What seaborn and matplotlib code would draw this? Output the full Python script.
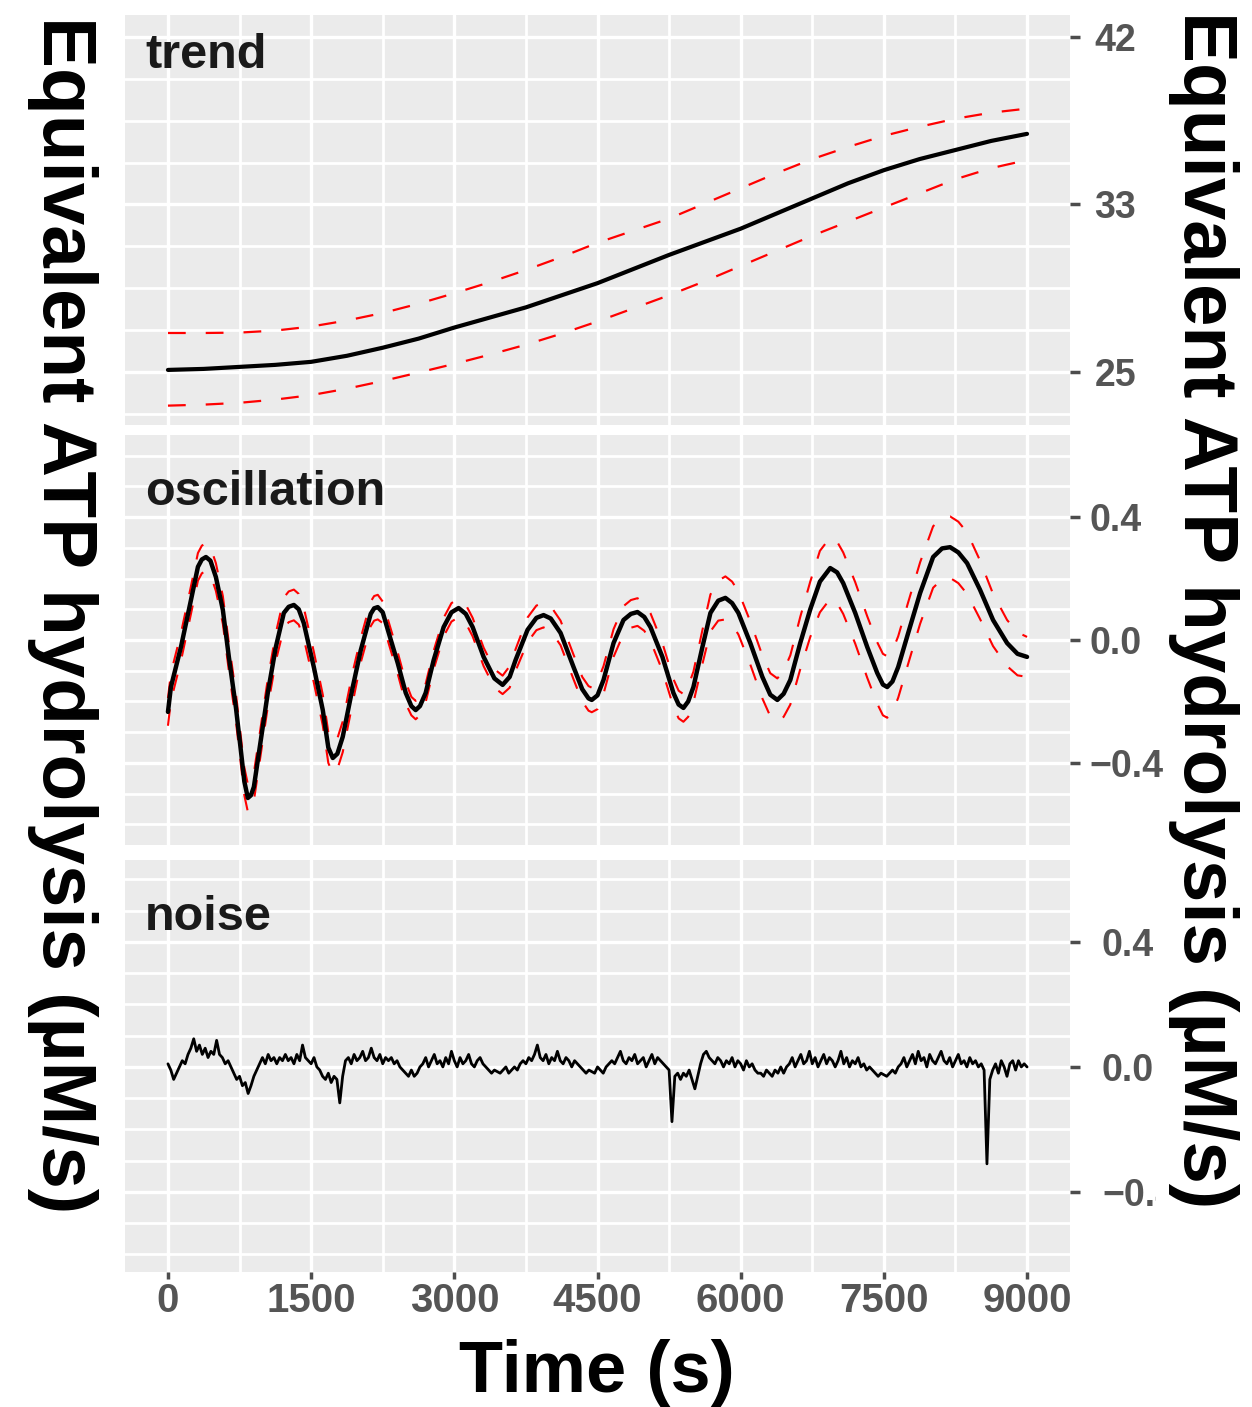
import numpy as np
import pandas as pd
import matplotlib
matplotlib.use("Agg")
import matplotlib.pyplot as plt
from matplotlib.ticker import FixedLocator, MultipleLocator
from matplotlib.transforms import Bbox, TransformedBbox
import seaborn as sns

# ---------------- data ----------------
x_ticks = [0, 1500, 3000, 4500, 6000, 7500, 9000]

# trend component with its upper / lower bounds
trend_time = [0, 375, 750, 1125, 1500, 1875, 2250, 2625, 3000, 3375, 3750, 4125, 4500,
              4875, 5250, 5625, 6000, 6375, 6750, 7125, 7500, 7875, 8250, 8625, 9000]
trend_fit = [25.1, 25.15, 25.25, 25.35, 25.5, 25.8, 26.2, 26.65, 27.2, 27.7, 28.2, 28.8, 29.4,
             30.1, 30.8, 31.45, 32.1, 32.85, 33.6, 34.35, 35.0, 35.55, 36.0, 36.45, 36.8]
trend_upper = [26.93, 26.93, 26.95, 27.05, 27.25, 27.55, 27.92, 28.38, 28.9, 29.45, 30.05, 30.7, 31.4,
               32.0, 32.6, 33.35, 34.1, 34.85, 35.55, 36.15, 36.7, 37.15, 37.55, 37.85, 38.05]
trend_lower = [23.33, 23.38, 23.47, 23.63, 23.85, 24.17, 24.55, 24.97, 25.4, 25.86, 26.35, 26.9, 27.5,
               28.15, 28.8, 29.5, 30.25, 31.0, 31.75, 32.45, 33.15, 33.85, 34.55, 35.1, 35.5]
trend_ticks = [25, 33.3, 41.6]
trend_tick_labels = ["25", "33", "42"]

# oscillation component and the half-width of its band
osc_time = [0, 31, 136, 241, 314, 355, 398, 445, 502, 575,
            638, 712, 764, 800, 837, 870, 900, 973, 1046, 1130,
            1214, 1265, 1319, 1370, 1423, 1528, 1622, 1680, 1727, 1775,
            1831, 1936, 2020, 2124, 2160, 2198, 2250, 2313, 2407, 2491,
            2550, 2595, 2640, 2700, 2784, 2888, 2970, 3045, 3120, 3192,
            3307, 3420, 3506, 3580, 3642, 3767, 3860, 3935, 4010, 4113,
            4249, 4340, 4406, 4440, 4500, 4563, 4668, 4772, 4850, 4919,
            4990, 5055, 5180, 5295, 5350, 5400, 5450, 5505, 5599, 5683,
            5765, 5840, 5910, 5976, 6101, 6227, 6310, 6384, 6450, 6520,
            6624, 6729, 6830, 6938, 7010, 7074, 7200, 7326, 7430, 7490,
            7535, 7590, 7650, 7755, 7880, 8016, 8110, 8194, 8280, 8372,
            8508, 8644, 8791, 8900, 9000]
osc_fit = [-0.234, -0.153, -0.023, 0.13, 0.238, 0.262, 0.27, 0.258, 0.205, 0.098,
           -0.055, -0.22, -0.36, -0.46, -0.514, -0.505, -0.478, -0.325, -0.172, -0.023,
           0.088, 0.108, 0.114, 0.1, 0.055, -0.088, -0.228, -0.35, -0.384, -0.37,
           -0.315, -0.153, -0.033, 0.085, 0.103, 0.107, 0.09, 0.023, -0.075, -0.172,
           -0.215, -0.228, -0.215, -0.172, -0.065, 0.042, 0.09, 0.104, 0.085, 0.042,
           -0.055, -0.125, -0.146, -0.12, -0.065, 0.033, 0.072, 0.081, 0.07, 0.023,
           -0.088, -0.16, -0.19, -0.195, -0.18, -0.13, -0.01, 0.065, 0.085, 0.091,
           0.075, 0.042, -0.055, -0.172, -0.21, -0.221, -0.2, -0.153, -0.023, 0.088,
           0.128, 0.137, 0.12, 0.088, -0.01, -0.12, -0.178, -0.195, -0.175, -0.13,
           -0.01, 0.1, 0.19, 0.234, 0.22, 0.185, 0.088, -0.023, -0.107, -0.145,
           -0.153, -0.135, -0.088, 0.023, 0.153, 0.27, 0.298, 0.302, 0.285, 0.25,
           0.163, 0.065, -0.01, -0.045, -0.055]
osc_halfwidth = [0.045] * 20 + [0.05] * 12 + [0.04, 0.04, 0.04, 0.04, 0.035, 0.035, 0.035, 0.035] + \
    [0.03] * 13 + [0.035, 0.035, 0.04, 0.04, 0.04, 0.04, 0.04] + [0.04] * 4 + [0.045] * 12 + \
    [0.05, 0.05, 0.055, 0.06, 0.065, 0.07, 0.07, 0.07, 0.07, 0.07, 0.07, 0.07, 0.075, 0.08] + \
    [0.085, 0.09] + [0.1] * 18 + [0.095, 0.085, 0.075, 0.07, 0.065]
resid_ticks = [-0.4, 0.0, 0.4]
osc_tick_labels = ["\u22120.4", "0.0", "0.4"]
noise_tick_labels = ["\u22120.4", "0.0", "0.4"]

# noise component, one reading every 30 s from 0 to 9000 s
noise_value = [
    0.01, -0.01, -0.04,
    -0.02, 0.0, 0.02, 0.01, 0.04, 0.06, 0.09,
    0.05, 0.07, 0.04, 0.06, 0.03, 0.05, 0.04, 0.085,
    0.04, 0.03, 0.01, 0.02, 0.0,
    -0.02, -0.04, -0.03, -0.06, -0.05, -0.085,
    -0.06, -0.03, -0.01, 0.01,
    0.03, 0.01, 0.04, 0.02, 0.03, 0.01, 0.03, 0.02, 0.04, 0.02, 0.03, 0.01, 0.04, 0.02, 0.07,
    0.03, 0.02, 0.01, 0.03, 0.0, -0.01,
    -0.03, -0.04, -0.02, -0.05, -0.03, -0.04, -0.115,
    -0.03, 0.02,
    0.03, 0.01, 0.04, 0.02, 0.03, 0.05, 0.02, 0.03, 0.06, 0.03, 0.02, 0.04, 0.01, 0.03, 0.02,
    0.03, 0.01, 0.02, 0.0, -0.01,
    -0.02, -0.03, -0.01, -0.03, -0.02, 0.0,
    0.01, 0.03, 0.0, 0.02, 0.04, 0.01, 0.02, 0.0, 0.03, 0.01, 0.05, 0.02, 0.0, 0.03, 0.01,
    0.02, 0.04, 0.01, 0.0, 0.02, 0.03, 0.01, 0.0,
    -0.01, -0.02, -0.01, -0.015, -0.02, -0.01, 0.0, -0.02, -0.01, 0.0, -0.01, 0.01,
    0.02, 0.01, 0.03, 0.02, 0.04, 0.07, 0.03, 0.02, 0.04, 0.01, 0.03, 0.02, 0.05, 0.02, 0.01,
    0.03, 0.02, 0.0, 0.02, 0.01, 0.0,
    -0.01, -0.02, -0.01, -0.015, -0.02, 0.0, -0.01, -0.02, 0.0, 0.01,
    0.02, 0.01, 0.03, 0.05, 0.02, 0.01, 0.03, 0.02, 0.04, 0.01, 0.02, 0.03, 0.0, 0.02, 0.04,
    0.01, 0.03, 0.02, 0.01, 0.0, -0.01,
    -0.175,
    -0.03, -0.02, -0.04, -0.02, -0.03, -0.01, -0.04, -0.07, -0.03,
    0.01, 0.04, 0.05, 0.03, 0.02,
    0.01, 0.03, 0.02, 0.0, 0.02, 0.01, 0.03, 0.0, 0.02, 0.01, -0.01, 0.02, 0.0, 0.01, -0.01, -0.02,
    -0.02, -0.03, -0.01, -0.02, -0.03, -0.01, -0.02, 0.0, -0.02, 0.0,
    0.01, 0.03, 0.0, 0.02, 0.04, 0.01, 0.02, 0.05, 0.01, 0.03, 0.0, 0.02, 0.04, 0.01, 0.03,
    0.02, 0.0, 0.02, 0.05, 0.01, 0.03, 0.0, 0.02, 0.01, 0.03, 0.0, 0.01, -0.01, 0.0, -0.01,
    -0.02, -0.03, -0.02, -0.025, -0.03, -0.02, -0.01, -0.02, 0.0,
    0.01, 0.03, 0.0, 0.02, 0.04, 0.01, 0.05, 0.02, 0.03, 0.0, 0.04, 0.02, 0.01, 0.03, 0.05,
    0.02, 0.01, 0.03, 0.0, 0.02, 0.04, 0.01, 0.02, 0.0, 0.03, 0.01, 0.02, 0.0, 0.01, -0.01,
    -0.31,
    -0.04, -0.01, 0.01, -0.02, 0.02, 0.0, -0.03, 0.01, 0.02, -0.01, 0.02, 0.0, 0.01, 0.0,
]

# ---------------- tables ----------------
trend_df = pd.DataFrame({"time": trend_time, "fit": trend_fit,
                         "upper": trend_upper, "lower": trend_lower})
osc_df = pd.DataFrame({"time": osc_time, "fit": osc_fit, "hw": osc_halfwidth})
osc_df["upper"] = osc_df["fit"] + osc_df["hw"]
osc_df["lower"] = osc_df["fit"] - osc_df["hw"]
noise_df = pd.DataFrame({"time": np.linspace(0, 9000, len(noise_value)),
                         "value": noise_value})

# ---------------- style ----------------
sns.set_theme(style="darkgrid", rc={
    "axes.facecolor": "#EBEBEB",
    "grid.color": "white",
    "figure.facecolor": "white",
    "lines.solid_joinstyle": "round",
    "lines.solid_capstyle": "round",
})
plt.rcParams["font.family"] = ["Liberation Sans", "DejaVu Sans"]

FIG_W, FIG_H = 1252, 1407
fig = plt.figure(figsize=(FIG_W / 100, FIG_H / 100), dpi=100)


def panel(top, bottom):
    return fig.add_axes([125 / FIG_W, 1 - bottom / FIG_H,
                         945 / FIG_W, (bottom - top) / FIG_H])


ax_trend = panel(15, 425)
ax_osc = panel(435, 845)
ax_noise = panel(860, 1272)

TICK_GREY = "#4D4D4D"
LABEL_GREY = "#555555"
BAND_RED = "#FF0000"
band_dash = (0, (8, 9))

# trend panel
sns.lineplot(data=trend_df, x="time", y="upper", ax=ax_trend, color=BAND_RED,
             linewidth=1.6, linestyle=band_dash)
sns.lineplot(data=trend_df, x="time", y="lower", ax=ax_trend, color=BAND_RED,
             linewidth=1.6, linestyle=band_dash)
sns.lineplot(data=trend_df, x="time", y="fit", ax=ax_trend, color="black",
             linewidth=3.0)

# oscillation panel
sns.lineplot(data=osc_df, x="time", y="upper", ax=ax_osc, color=BAND_RED,
             linewidth=1.5, linestyle=band_dash)
sns.lineplot(data=osc_df, x="time", y="lower", ax=ax_osc, color=BAND_RED,
             linewidth=1.5, linestyle=band_dash)
sns.lineplot(data=osc_df, x="time", y="fit", ax=ax_osc, color="black",
             linewidth=3.2)

# noise panel
sns.lineplot(data=noise_df, x="time", y="value", ax=ax_noise, color="black",
             linewidth=2.0)

panels = [
    (ax_trend, (22.37, 42.69), trend_ticks, trend_tick_labels,
     FixedLocator(25 + 2.075 * np.arange(-1, 9)), 10.5, "trend", 53 / 410),
    (ax_osc, (-0.667, 0.667), resid_ticks, osc_tick_labels,
     MultipleLocator(0.1), 7.0, "oscillation", 70 / 410),
    (ax_noise, (-0.656, 0.662), resid_ticks, noise_tick_labels,
     MultipleLocator(0.1), 16.0, "noise", 70 / 412),
]

for ax, ylim, yt, ytl, yminor, ypad, name, label_drop in panels:
    ax.set_xlim(-450, 9450)
    ax.set_ylim(*ylim)
    ax.set_xlabel("")
    ax.set_ylabel("")
    ax.set_facecolor("#EBEBEB")
    for spine in ax.spines.values():
        spine.set_visible(False)
    ax.set_xticks(x_ticks)
    ax.xaxis.set_minor_locator(MultipleLocator(750))
    ax.yaxis.tick_right()
    ax.set_yticks(yt, labels=ytl, fontweight="bold")
    ax.yaxis.set_minor_locator(yminor)
    ax.grid(True, which="major", color="white", linewidth=2.4)
    ax.grid(True, which="minor", color="white", linewidth=2.0)
    ax.tick_params(axis="y", which="major", right=True, left=False,
                   length=7, width=2.5, color=TICK_GREY,
                   labelsize=27, labelcolor=LABEL_GREY, pad=ypad)
    ax.tick_params(which="minor", length=0)
    ax.text(20 / 945, 1 - label_drop, name, transform=ax.transAxes,
            ha="left", va="baseline", fontsize=35, fontweight="bold",
            color="#1A1A1A")

for ax in (ax_trend, ax_osc):
    ax.tick_params(axis="x", which="both", bottom=False, labelbottom=False)

ax_noise.set_xticks(x_ticks, labels=[str(v) for v in x_ticks], fontweight="bold")
ax_noise.tick_params(axis="x", which="major", bottom=True, length=5, width=2.5,
                     color=TICK_GREY, labelsize=29, labelcolor=LABEL_GREY, pad=2)

# axis titles
title_kw = dict(fontsize=55, fontweight="bold", color="black",
                rotation=-90, ha="center", va="center")
ylab = "Equivalent ATP hydrolysis (\u00b5M/s)"
fig.text(62 / FIG_W, 1 - 615 / FIG_H, ylab, **title_kw)
fig.text(1203 / FIG_W, 1 - 610 / FIG_H, ylab, **title_kw)
fig.text(597 / FIG_W, 1 - 1392 / FIG_H, "Time (s)", ha="center", va="baseline",
         fontsize=52, fontweight="bold", color="black")

# the lowest right-hand label runs under the title strip
clip = TransformedBbox(Bbox([[0, 0], [1156 / FIG_W, 1]]), fig.transFigure)
for tick in ax_noise.yaxis.get_major_ticks():
    tick.label2.set_clip_box(clip)
    tick.label2.set_clip_on(True)

fig.savefig("out.png", dpi=100, facecolor="white")
